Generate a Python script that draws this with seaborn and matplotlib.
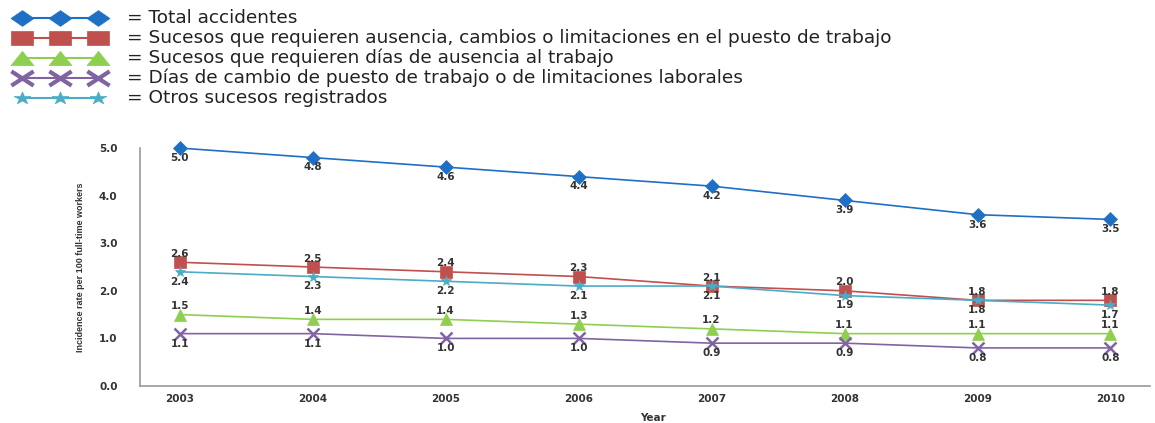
import matplotlib
import pandas as pd
import seaborn as sns
from matplotlib import pyplot as plt
from matplotlib.markers import MarkerStyle
from matplotlib.transforms import Affine2D

years = [2003, 2004, 2005, 2006, 2007, 2008, 2009, 2010]
total = [5.0, 4.8, 4.6, 4.4, 4.2, 3.9, 3.6, 3.5]
ausencia_cambios = [2.6, 2.5, 2.4, 2.3, 2.1, 2.0, 1.8, 1.8]
dias_ausencia = [1.5, 1.4, 1.4, 1.3, 1.2, 1.1, 1.1, 1.1]
dias_cambio = [1.1, 1.1, 1.0, 1.0, 0.9, 0.9, 0.8, 0.8]
otros = [2.4, 2.3, 2.2, 2.1, 2.1, 1.9, 1.8, 1.7]

series_names = [
    "= Total accidentes",
    "= Sucesos que requieren ausencia, cambios o limitaciones en el puesto de trabajo",
    "= Sucesos que requieren días de ausencia al trabajo",
    "= Días de cambio de puesto de trabajo o de limitaciones laborales",
    "= Otros sucesos registrados",
]
series_values = [total, ausencia_cambios, dias_ausencia, dias_cambio, otros]

# drawing styles (colour, marker, size, where the value label goes)
colors = ["#1f6fc5", "#c0504d", "#8fcf4f", "#8064a2", "#4bacc6"]
markers = ["D", "s", "^", "x", "*"]
msizes = [7, 8.5, 8.5, 8, 8]
label_pos = ["below", "above", "above", "below", "below"]
# legend markers are stretched sideways in the original
leg_stretch = [1.45, 1.6, 1.6, 1.55, 1.35]
leg_sizes = [16.5, 16.5, 16.5, 16, 12]

sns.set_theme(style="white")
plt.rcParams['font.family'] = ['DejaVu Sans']

fig = plt.figure(figsize=(11.55, 4.23), dpi=100)
ax = fig.add_axes([0.121, 0.0875, 0.875, 0.5625])
txt_color = "#333333"

for name, vals, c, m, ms, pos in zip(series_names, series_values, colors,
                                     markers, msizes, label_pos):
    df = pd.DataFrame({"Year": years, "value": vals})
    sns.lineplot(data=df, x="Year", y="value", ax=ax, color=c, marker=m,
                 markersize=ms, markeredgecolor=c,
                 markeredgewidth=1.8 if m == "x" else 0.5,
                 linewidth=1.2, clip_on=False)
    for x, y in zip(years, vals):
        dy = 2.5 if pos == "above" else -3.5
        va = "bottom" if pos == "above" else "top"
        ax.annotate(f"{y:.1f}", (x, y), xytext=(0, dy), textcoords="offset points",
                    ha="center", va=va, fontsize=7.5, fontweight="bold", color=txt_color)

ax.set_xlim(2002.7, 2010.3)
ax.set_ylim(0, 5.0)
ax.set_xticks(years)
ax.set_xticklabels([str(y) for y in years], fontsize=7.5, fontweight="bold", color=txt_color)
yticks = [0, 1, 2, 3, 4, 5]
ax.set_yticks(yticks)
ax.set_yticklabels([f"{v:.1f}" for v in yticks], fontsize=7.5,
                   fontweight="bold", color=txt_color)
ax.tick_params(axis="x", length=0, pad=6)
ax.tick_params(axis="y", length=0, pad=16)
ax.set_xlabel("Year", fontsize=7.5, fontweight="bold", color=txt_color)
ax.xaxis.label.set_va("center")
ax.xaxis.set_label_coords(0.508, -0.135)
ax.set_ylabel("Incidence rate per 100 full-time workers", fontsize=6.5,
              family="Liberation Sans", fontweight="bold", color=txt_color)
ax.yaxis.set_label_coords(-0.054, 0.5)
sns.despine(ax=ax)
for sp in ["left", "bottom"]:
    ax.spines[sp].set_color("#999999")
    ax.spines[sp].set_linewidth(1.2)

# hand-drawn legend in pixel coordinates at the top
lax = fig.add_axes([0, 0, 1, 1], facecolor="none")
lax.set_xlim(0, 1155)
lax.set_ylim(423, 0)
lax.axis("off")
for i, (name, c, m) in enumerate(zip(series_names, colors, markers)):
    st = MarkerStyle(m)
    path = st.get_path().transformed(st.get_transform()).transformed(
        Affine2D().scale(leg_stretch[i], 1))
    y = 18 + 20 * i
    lax.plot([22, 60, 98], [y, y, y], color=c, linewidth=1.5, marker=path,
             markersize=leg_sizes[i], markeredgecolor=c,
             markerfacecolor=c if m != "x" else "none",
             markeredgewidth=3 if m == "x" else 0.5)
    lax.text(127, y, name, fontsize=13.3, family="DejaVu Sans",
             color="#222222", va="center", ha="left")

fig.savefig("out.png", dpi=100)
